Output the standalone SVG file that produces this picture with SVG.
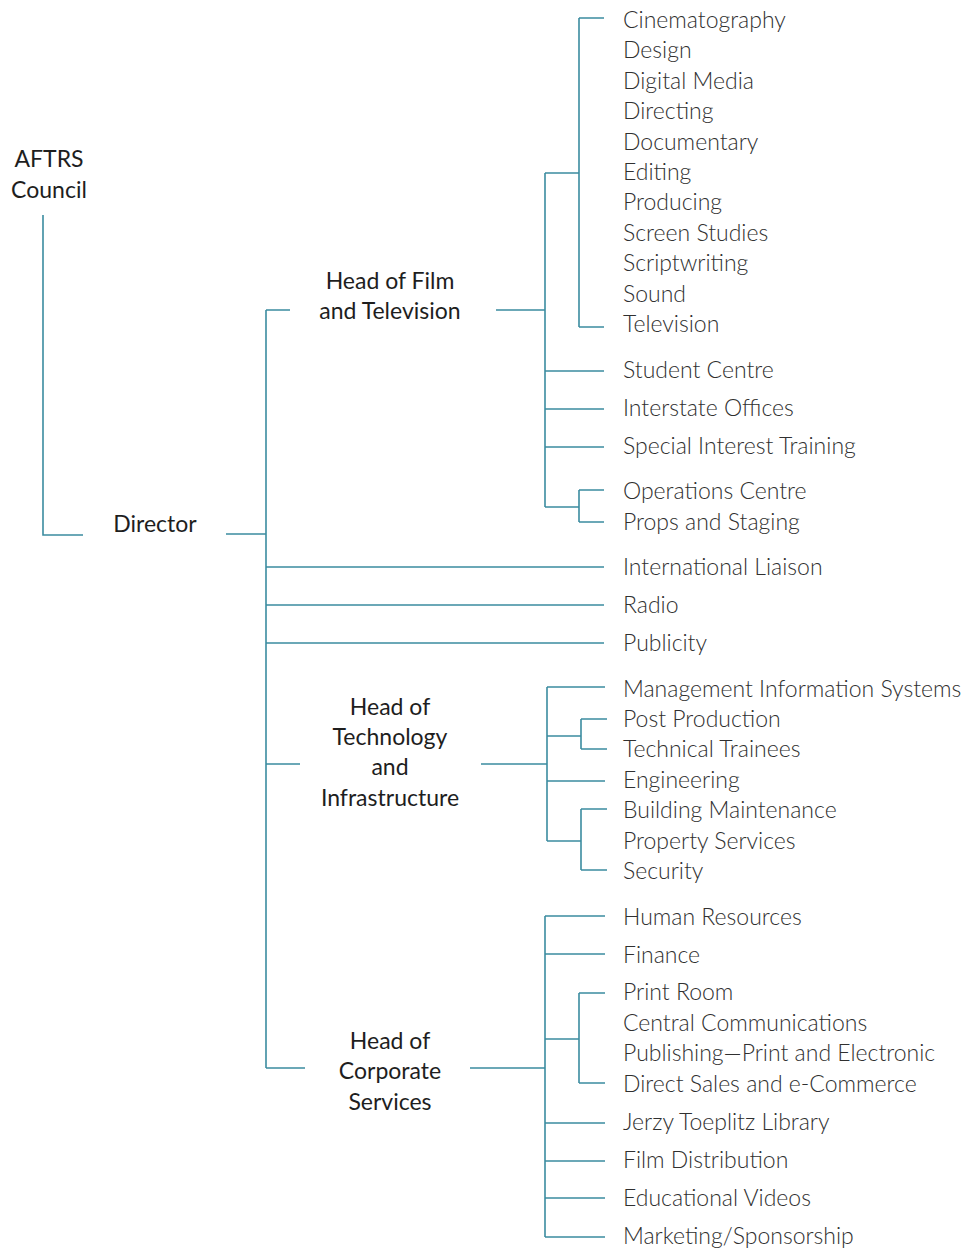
<svg xmlns="http://www.w3.org/2000/svg" width="965" height="1250" viewBox="0 0 965 1250">
<style>
.bg{fill:#ffffff}
.ln{stroke:#3b8ca0;stroke-width:1.6;fill:none}
.hd{font-family:Lato,"Liberation Sans",sans-serif;font-size:23px;fill:#1e1e1e;text-anchor:middle}
.it{font-family:Lato,"Liberation Sans",sans-serif;font-weight:300;font-size:23px;fill:#303030}
</style>
<rect class="bg" x="0" y="0" width="965" height="1250"/>
<g id="connectors">
<path class="ln" d="M43 215V535H83"/>
<path class="ln" d="M226 534H266M266 310V1068M266 310H290M266 567H604M266 605H604M266 643H604M266 764H300M266 1068H305"/>
<path class="ln" d="M496 310H545M545 173V507M545 173H579M579 18V327M579 18H604M579 327H604M545 371H604M545 409H604M545 447H604M545 507H579M579 490V522M579 490H604M579 522H604"/>
<path class="ln" d="M481 764H547M547 687V841M547 687H605M547 736H581M581 719V749M581 719H607M581 749H607M547 781H605M547 841H581M581 809V870M581 809H607M581 870H607"/>
<path class="ln" d="M470 1068H545M545 916V1237M545 916H605M545 954H605M545 1039H579M579 993V1083M579 993H605M579 1083H605M545 1123H605M545 1161H605M545 1198H605M545 1237H605"/>
</g>
<g id="council"><text class="hd" x="49" y="167">AFTRS</text><text class="hd" x="49" y="198">Council</text></g>
<g id="director"><text class="hd" x="155" y="532">Director</text></g>
<g id="head-film"><text class="hd" x="390" y="289">Head of Film</text><text class="hd" x="390" y="319">and Television</text></g>
<g id="head-tech"><text class="hd" x="390" y="715">Head of</text><text class="hd" x="390" y="745">Technology</text><text class="hd" x="390" y="775">and</text><text class="hd" x="390" y="806">Infrastructure</text></g>
<g id="head-corp"><text class="hd" x="390" y="1049">Head of</text><text class="hd" x="390" y="1079">Corporate</text><text class="hd" x="390" y="1110">Services</text></g>
<g id="film-units">
<text class="it" x="623" y="28">Cinematography</text>
<text class="it" x="623" y="58">Design</text>
<text class="it" x="623" y="89">Digital Media</text>
<text class="it" x="623" y="119">Directing</text>
<text class="it" x="623" y="150">Documentary</text>
<text class="it" x="623" y="180">Editing</text>
<text class="it" x="623" y="210">Producing</text>
<text class="it" x="623" y="241">Screen Studies</text>
<text class="it" x="623" y="271">Scriptwriting</text>
<text class="it" x="623" y="302">Sound</text>
<text class="it" x="623" y="332">Television</text>
</g>
<g id="student-centre"><text class="it" x="623" y="378">Student Centre</text></g>
<g id="interstate"><text class="it" x="623" y="416">Interstate Offices</text></g>
<g id="special"><text class="it" x="623" y="454">Special Interest Training</text></g>
<g id="operations"><text class="it" x="623" y="499">Operations Centre</text><text class="it" x="623" y="530">Props and Staging</text></g>
<g id="intl"><text class="it" x="623" y="575">International Liaison</text></g>
<g id="radio"><text class="it" x="623" y="613">Radio</text></g>
<g id="publicity"><text class="it" x="623" y="651">Publicity</text></g>
<g id="mis"><text class="it" x="623" y="697">Management Information Systems</text></g>
<g id="post"><text class="it" x="623" y="727">Post Production</text><text class="it" x="623" y="757">Technical Trainees</text></g>
<g id="engineering"><text class="it" x="623" y="788">Engineering</text></g>
<g id="building"><text class="it" x="623" y="818">Building Maintenance</text><text class="it" x="623" y="849">Property Services</text><text class="it" x="623" y="879">Security</text></g>
<g id="hr"><text class="it" x="623" y="925">Human Resources</text></g>
<g id="finance"><text class="it" x="623" y="963">Finance</text></g>
<g id="print"><text class="it" x="623" y="1000">Print Room</text><text class="it" x="623" y="1031">Central Communications</text><text class="it" x="623" y="1061">Publishing—Print and Electronic</text><text class="it" x="623" y="1092">Direct Sales and e-Commerce</text></g>
<g id="library"><text class="it" x="623" y="1130">Jerzy Toeplitz Library</text></g>
<g id="film-dist"><text class="it" x="623" y="1168">Film Distribution</text></g>
<g id="edu"><text class="it" x="623" y="1206">Educational Videos</text></g>
<g id="marketing"><text class="it" x="623" y="1244">Marketing/Sponsorship</text></g>
</svg>
